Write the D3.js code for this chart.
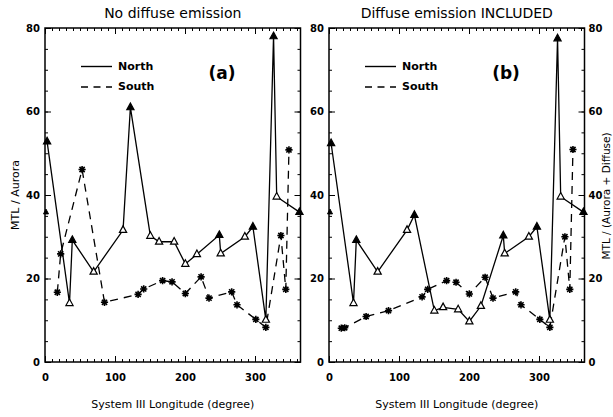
<!DOCTYPE html>
<html><head><meta charset="utf-8">
<script src="https://cdn.jsdelivr.net/npm/d3@7"></script>
<style>body{margin:0;background:#fff}svg{display:block}</style>
</head><body>
<svg id="c" width="613" height="417"></svg>
<script>
// ---- data ----
const northLon = [3, 35, 39, 69.5, 111.5, 122, 150.5, 163, 184.5, 200.5, 217, 249, 251, 285.5, 297, 315.5, 326.5, 331, 363.5];
const northA   = [52.8, 14.1, 29.2, 21.6, 31.6, 61.0, 30.2, 28.8, 28.8, 23.5, 25.8, 30.4, 26.0, 30.0, 32.4, 10.1, 78.0, 39.6, 35.9];
const northB   = [52.4, 14.1, 29.2, 21.6, 31.6, 35.2, 12.3, 13.1, 12.6, 9.7, 13.4, 30.3, 26.0, 30.0, 32.4, 10.1, 77.5, 39.6, 35.9];
const northFilled = [0, 2, 5, 11, 14, 16, 18];
const southLon = [17.6, 22.4, 53, 85, 133, 141, 168, 181.5, 200.5, 223, 234.3, 266.7, 274.3, 301.2, 315.5, 337, 344, 348.5];
const southA   = [16.7, 25.9, 46.1, 14.3, 16.2, 17.5, 19.5, 19.2, 16.4, 20.4, 15.3, 16.8, 13.7, 10.2, 8.3, 30.3, 17.4, 50.8];
const southB   = [8.1, 8.2, 10.9, 12.3, 15.6, 17.4, 19.5, 19.1, 16.3, 20.3, 15.3, 16.8, 13.7, 10.2, 8.3, 30.0, 17.4, 50.9];
const wrapLon = [0];
const wrapA = [35.9];
const wrapB = [35.9];
const xTicks = [0, 100, 200, 300];
const yTicks = [0, 20, 40, 60, 80];
const titles = ["No diffuse emission", "Diffuse emission INCLUDED"];
const panelLabels = ["(a)", "(b)"];
const xTitle = "System III Longitude (degree)";
const yTitles = ["MTL / Aurora", "MTL / (Aurora + Diffuse)"];
const legendNames = ["North", "South"];

// ---- drawing ----
const svg = d3.select("#c");
const FONT = "DejaVu Sans, Verdana, sans-serif";
const yTop = 28, yBot = 362;
const y = d3.scaleLinear().domain([0, 80]).range([yBot, yTop]);

const triPath = "M0,-4.2L3.6,2.4L-3.6,2.4Z";
const smallTri = "M0,-3L2.5,1.8L-2.5,1.8Z";
const rr = 3.6, dd = 2.6;
const starPath = `M${-rr},0L${rr},0M0,${-rr}L0,${rr}M${-dd},${-dd}L${dd},${dd}M${-dd},${dd}L${dd},${-dd}`;

function styleAxis(g, showLabels) {
  g.select(".domain").remove();
  g.selectAll(".tick line").attr("stroke", "#000").attr("stroke-width", 1);
  g.selectAll("text").attr("font-family", FONT).attr("font-size", 10)
    .attr("font-weight", "bold").attr("fill", "#000");
  if (!showLabels) g.selectAll("text").remove();
}

function panel(idx, left, right, nVals, sVals, wVals) {
  const x = d3.scaleLinear().domain([0, 365]).range([left, right]);
  const g = svg.append("g");
  const minorX = d3.range(0, 361, 10), minorY = d3.range(0, 81, 5);

  g.append("g").attr("transform", `translate(0,${yBot})`)
    .call(d3.axisBottom(x).tickValues(minorX).tickSize(-3).tickFormat(""))
    .call(a => styleAxis(a, false));
  g.append("g").attr("transform", `translate(0,${yBot})`)
    .call(d3.axisBottom(x).tickValues(xTicks).tickSize(-6).tickPadding(12))
    .call(a => styleAxis(a, true));
  g.append("g").attr("transform", `translate(0,${yTop})`)
    .call(d3.axisTop(x).tickValues(minorX).tickSize(-3).tickFormat(""))
    .call(a => styleAxis(a, false));
  g.append("g").attr("transform", `translate(0,${yTop})`)
    .call(d3.axisTop(x).tickValues(xTicks).tickSize(-6).tickFormat(""))
    .call(a => styleAxis(a, false));
  g.append("g").attr("transform", `translate(${left},0)`)
    .call(d3.axisLeft(y).tickValues(minorY).tickSize(-3).tickFormat(""))
    .call(a => styleAxis(a, false));
  g.append("g").attr("transform", `translate(${left},0)`)
    .call(d3.axisLeft(y).tickValues(yTicks).tickSize(-6).tickPadding(5))
    .call(a => styleAxis(a, true));
  g.append("g").attr("transform", `translate(${right},0)`)
    .call(d3.axisRight(y).tickValues(minorY).tickSize(-3).tickFormat(""))
    .call(a => styleAxis(a, false));
  g.append("g").attr("transform", `translate(${right},0)`)
    .call(d3.axisRight(y).tickValues(yTicks).tickSize(-6).tickPadding(4))
    .call(a => styleAxis(a, idx === 1));

  g.append("rect").attr("x", left).attr("y", yTop).attr("width", right - left).attr("height", yBot - yTop)
    .attr("fill", "none").attr("stroke", "#000").attr("stroke-width", 1.5);

  const north = northLon.map((l, i) => ({ lon: l, v: nVals[i], filled: northFilled.includes(i) }));
  const south = southLon.map((l, i) => ({ lon: l, v: sVals[i] }));
  const line = d3.line().x(d => x(d.lon)).y(d => y(d.v));

  g.append("path").datum(south).attr("d", line).attr("fill", "none").attr("stroke", "#000")
    .attr("stroke-width", 1.3).attr("stroke-dasharray", "8,6");
  g.append("path").datum(north).attr("d", line).attr("fill", "none").attr("stroke", "#000")
    .attr("stroke-width", 1.3);

  g.selectAll(".star").data(south).join("path").attr("class", "star")
    .attr("transform", d => `translate(${x(d.lon)},${y(d.v)})`)
    .attr("d", starPath).attr("stroke", "#000").attr("stroke-width", 1.6).attr("fill", "none");
  g.selectAll(".tri").data(north).join("path").attr("class", "tri")
    .attr("transform", d => `translate(${x(d.lon)},${y(d.v)})`)
    .attr("d", triPath).attr("stroke", "#000").attr("stroke-width", 1.2)
    .attr("fill", d => d.filled ? "#000" : "#fff");
  g.selectAll(".wrap").data(wrapLon.map((l, i) => ({ lon: l, v: wVals[i] }))).join("path").attr("class", "wrap")
    .attr("transform", d => `translate(${x(d.lon) + 1},${y(d.v)})`)
    .attr("d", smallTri).attr("fill", "#000").attr("stroke", "#000").attr("stroke-width", 1);

  const cx = (left + right) / 2;
  g.append("text").attr("x", cx).attr("y", 18).attr("text-anchor", "middle")
    .attr("font-family", FONT).attr("font-size", 14).text(titles[idx]);
  g.append("text").attr("x", cx).attr("y", 408).attr("text-anchor", "middle")
    .attr("font-family", FONT).attr("font-size", 11).text(xTitle);

  const lx0 = left + 36, lx1 = left + 67;
  g.append("line").attr("x1", lx0).attr("x2", lx1).attr("y1", 66.5).attr("y2", 66.5)
    .attr("stroke", "#000").attr("stroke-width", 1.4);
  g.append("line").attr("x1", lx0).attr("x2", lx1).attr("y1", 87).attr("y2", 87)
    .attr("stroke", "#000").attr("stroke-width", 1.4).attr("stroke-dasharray", "7,5.5");
  g.append("text").attr("x", lx1 + 6).attr("y", 70).attr("font-family", FONT).attr("font-size", 11)
    .attr("font-weight", "bold").text(legendNames[0]);
  g.append("text").attr("x", lx1 + 6).attr("y", 90).attr("font-family", FONT).attr("font-size", 11)
    .attr("font-weight", "bold").text(legendNames[1]);

  g.append("text").attr("x", left + 177).attr("y", 79).attr("text-anchor", "middle")
    .attr("font-family", FONT).attr("font-size", 17).attr("font-weight", "bold").text(panelLabels[idx]);
}

panel(0, 45, 300.5, northA, southA, wrapA);
panel(1, 329, 584.5, northB, southB, wrapB);

svg.append("text").attr("transform", "translate(19,195) rotate(-90)").attr("text-anchor", "middle")
  .attr("font-family", FONT).attr("font-size", 11).text(yTitles[0]);
svg.append("text").attr("transform", "translate(609.5,196) rotate(-90)").attr("text-anchor", "middle")
  .attr("font-family", FONT).attr("font-size", 10.5).text(yTitles[1]);
</script>
</body></html>
